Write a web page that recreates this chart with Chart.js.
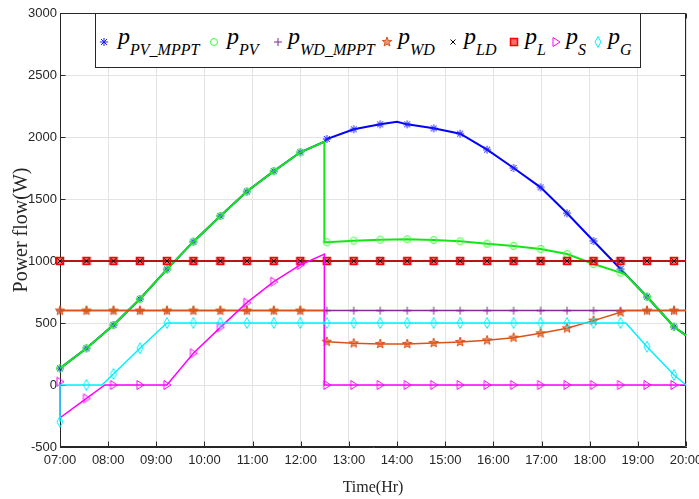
<html>
<head>
<title>Power flow</title>
<script src="https://cdn.jsdelivr.net/npm/chart.js"></script>
<style>
  body { margin: 0; background: #fff; }
  #wrap { position: relative; width: 699px; height: 499px; }
  #legend { position: absolute; left: 95px; top: 13px; width: 546px; height: 55px; box-sizing: border-box;
            border: 1px solid #262626; background: #fff; }
  #legend canvas { position: absolute; }
  #legend .lab { position: absolute; top: 9px; line-height: 24px; white-space: nowrap;
                 font: italic 24px 'Liberation Serif', serif; color: #000; }
  #legend .lab sub { font-size: 16px; vertical-align: -11px; line-height: 0; }
</style>
</head>
<body>
<div id="wrap">
  <canvas id="chart" width="699" height="499"></canvas>
  <div id="legend"></div>
</div>

<script>
    // marker times (hours) – a marker is drawn at the first point of each of these
    const tMark = [7.00, 7.55, 8.11, 8.66, 9.22, 9.77, 10.33, 10.88, 11.44, 11.99, 12.54, 13.10,
                   13.65, 14.21, 14.76, 15.31, 15.87, 16.42, 16.98, 17.53, 18.08, 18.64, 19.19, 19.75];

    const xLabels = ['07:00', '08:00', '09:00', '10:00', '11:00', '12:00', '13:00',
                     '14:00', '15:00', '16:00', '17:00', '18:00', '19:00', '20:00'];
    const yLabels = ['-500', '0', '500', '1000', '1500', '2000', '2500', '3000'];

    // p_PV_MPPT
    const pvMpptT = [7.00, 7.55, 8.11, 8.66, 9.22, 9.77, 10.33, 10.88, 11.44, 11.99, 12.49, 12.54, 13.10, 13.65,
                     14.00, 14.21, 14.76, 15.31, 15.87, 16.42, 16.98, 17.53, 18.08, 18.64, 19.19, 19.75, 20.00];
    const pvMpptV = [134, 296, 484, 694, 933, 1156, 1363, 1560, 1725, 1877, 1962, 1984, 2062, 2102,
                     2123, 2102, 2070, 2027, 1898, 1750, 1594, 1385, 1161, 935, 712, 470, 400];

    // p_PV
    const pvT = [7.00, 7.55, 8.11, 8.66, 9.22, 9.77, 10.33, 10.88, 11.44, 11.99, 12.49, 12.49, 12.54, 13.10,
                 13.65, 14.21, 14.76, 15.31, 15.87, 16.42, 16.98, 17.53, 18.08, 18.64, 18.75, 19.19, 19.75, 20.00];
    const pvV = [134, 296, 484, 694, 933, 1156, 1363, 1560, 1725, 1877, 1962, 1151, 1151, 1164,
                 1172, 1175, 1169, 1159, 1140, 1121, 1097, 1056, 976, 906, 888, 712, 470, 400];

    // p_WD_MPPT
    const wdMpptT = [7.00, 7.55, 8.11, 8.66, 9.22, 9.77, 10.33, 10.88, 11.44, 11.99, 12.54, 13.10,
                     13.65, 14.21, 14.76, 15.31, 15.87, 16.42, 16.98, 17.53, 18.08, 18.64, 19.19, 19.75, 20.00];
    const wdMpptV = [600, 600, 600, 600, 600, 600, 600, 600, 600, 600, 600, 600,
                     600, 600, 600, 600, 600, 600, 600, 600, 600, 600, 600, 600, 600];

    // p_WD
    const wdT = [7.00, 7.55, 8.11, 8.66, 9.22, 9.77, 10.33, 10.88, 11.44, 11.99, 12.49, 12.49, 12.54, 13.10,
                 13.65, 14.21, 14.76, 15.31, 15.87, 16.42, 16.98, 17.53, 18.08, 18.64, 18.75, 19.19, 19.75, 20.00];
    const wdV = [600, 600, 600, 600, 600, 600, 600, 600, 600, 600, 600, 349, 349, 336,
                 331, 331, 339, 347, 360, 382, 417, 457, 519, 586, 600, 600, 600, 600];

    // p_LD and p_L
    const loadT = [7.00, 7.55, 8.11, 8.66, 9.22, 9.77, 10.33, 10.88, 11.44, 11.99, 12.54, 13.10,
                   13.65, 14.21, 14.76, 15.31, 15.87, 16.42, 16.98, 17.53, 18.08, 18.64, 19.19, 19.75, 20.00];
    const ldV = [1000, 1000, 1000, 1000, 1000, 1000, 1000, 1000, 1000, 1000, 1000, 1000,
                 1000, 1000, 1000, 1000, 1000, 1000, 1000, 1000, 1000, 1000, 1000, 1000, 1000];
    const lV = [1000, 1000, 1000, 1000, 1000, 1000, 1000, 1000, 1000, 1000, 1000, 1000,
                1000, 1000, 1000, 1000, 1000, 1000, 1000, 1000, 1000, 1000, 1000, 1000, 1000];

    // p_S
    const sT = [7.00, 7.00, 7.55, 7.93, 8.11, 8.66, 9.22, 9.77, 10.33, 10.88, 11.44, 11.99, 12.49, 12.49, 12.54,
                13.10, 13.65, 14.21, 14.76, 15.31, 15.87, 16.42, 16.98, 17.53, 18.08, 18.64, 19.19, 19.75, 20.00];
    const sV = [27, -265, -108, 0, 0, 0, 0, 256, 465, 664, 833, 968, 1056, 0, 0,
                0, 0, 0, 0, 0, 0, 0, 0, 0, 0, 0, 0, 0, 0];

    // p_G
    const gT = [7.00, 7.00, 7.55, 7.87, 8.11, 8.66, 9.22, 9.77, 10.33, 10.88, 11.44, 11.99, 12.54, 13.10,
                13.65, 14.21, 14.76, 15.31, 15.87, 16.42, 16.98, 17.53, 18.08, 18.64, 18.75, 19.19, 19.75, 20.00];
    const gV = [-296, 0, 0, 0, 89, 296, 500, 500, 500, 500, 500, 500, 500, 500,
                500, 500, 500, 500, 500, 500, 500, 500, 500, 500, 500, 309, 81, 0];

    // small marker images (matlab style)
    function marker(kind, color) {
        const c = document.createElement('canvas');
        c.width = 14; c.height = 14;
        const g = c.getContext('2d');
        g.translate(7, 7);
        g.strokeStyle = color;
        g.fillStyle = color;
        g.lineWidth = 1;
        g.beginPath();
        if (kind === 'ast') {
            g.moveTo(-4, 0); g.lineTo(4, 0); g.moveTo(0, -4); g.lineTo(0, 4);
            g.moveTo(-3, -3); g.lineTo(3, 3); g.moveTo(-3, 3); g.lineTo(3, -3);
        } else if (kind === 'circ') {
            g.arc(0, 0, 3.5, 0, Math.PI * 2);
        } else if (kind === 'plus') {
            g.moveTo(-4, 0); g.lineTo(4, 0); g.moveTo(0, -4); g.lineTo(0, 4);
        } else if (kind === 'pent') {
            for (let i = 0; i < 10; i++) {
                const r = i % 2 ? 2 : 5;
                const a = -Math.PI / 2 + i * Math.PI / 5;
                g.lineTo(Math.cos(a) * r, Math.sin(a) * r);
            }
            g.closePath();
            g.globalAlpha = 0.6; g.fill(); g.globalAlpha = 1;
        } else if (kind === 'x') {
            g.moveTo(-2.5, -2.5); g.lineTo(2.5, 2.5); g.moveTo(-2.5, 2.5); g.lineTo(2.5, -2.5);
        } else if (kind === 'sq') {
            g.rect(-3.5, -3.5, 7, 7);
            g.fillStyle = '#ff6a6a'; g.fill();
            g.lineWidth = 1.5;
        } else if (kind === 'tri') {
            g.moveTo(-3, -4.5); g.lineTo(4, 0); g.lineTo(-3, 4.5); g.closePath();
        } else if (kind === 'dia') {
            g.moveTo(0, -5.5); g.lineTo(3, 0); g.lineTo(0, 5.5); g.lineTo(-3, 0); g.closePath();
        }
        g.stroke();
        return c;
    }

    const series = [
        {sub: 'PV_MPPT', t: pvMpptT, v: pvMpptV, line: '#0000ff', mk: 'ast',  mc: '#1a1aff', w: 2,   z: 8, lx: 8,   tx: 22},
        {sub: 'PV',      t: pvT,     v: pvV,     line: '#14e614', mk: 'circ', mc: '#33ff33', w: 2,   z: 7, lx: 118, tx: 131},
        {sub: 'WD_MPPT', t: wdMpptT, v: wdMpptV, line: '#7e2f8e', mk: 'plus', mc: '#7e2f8e', w: 1.5, z: 6, lx: 182, tx: 192},
        {sub: 'WD',      t: wdT,     v: wdV,     line: '#d95319', mk: 'pent', mc: '#d95319', w: 1.5, z: 5, lx: 291, tx: 302},
        {sub: 'LD',      t: loadT,   v: ldV,     line: '#b81414', mk: 'x',    mc: '#000000', w: 2,   z: 3, lx: 357, tx: 368},
        {sub: 'L',       t: loadT,   v: lV,      line: '#c81a1a', mk: 'sq',   mc: '#ff0000', w: 2,   z: 4, lx: 418, tx: 429},
        {sub: 'S',       t: sT,      v: sV,      line: '#ff00ff', mk: 'tri',  mc: '#ff00ff', w: 1.5, z: 2, lx: 460, tx: 470},
        {sub: 'G',       t: gT,      v: gV,      line: '#00f0ff', mk: 'dia',  mc: '#00f0ff', w: 1.5, z: 1, lx: 502, tx: 512}
    ];

    const datasets = series.map(s => {
        const seen = new Set();
        const marks = s.t.map(t => {
            if (tMark.includes(t) && !seen.has(t)) { seen.add(t); return 1; }
            return 0;
        });
        const img = marker(s.mk, s.mc);
        s.img = marker(s.mk, s.mc);
        return {
            label: 'p_' + s.sub,
            data: s.t.map((t, i) => ({x: t, y: s.v[i]})),
            borderColor: s.line,
            borderWidth: s.w,
            tension: 0,
            pointStyle: img,
            pointRadius: ctx => marks[ctx.dataIndex] ? 3 : 0,
            pointHoverRadius: 0,
            clip: false,
            order: s.z
        };
    });

    // box round the plot with inward ticks on all four sides
    const frameTicks = {
        id: 'frameTicks',
        beforeDatasetsDraw(chart) {
            const {ctx, chartArea: a, scales: {x, y}} = chart;
            ctx.save();
            ctx.strokeStyle = '#262626';
            ctx.lineWidth = 1;
            const L = Math.round(a.left) + 0.5, R = Math.round(a.right) - 0.5;
            const T = Math.round(a.top) + 0.5, B = Math.round(a.bottom) - 0.5;
            ctx.beginPath();
            ctx.rect(L, T, R - L, B - T);
            x.ticks.forEach(t => {
                const px = Math.round(x.getPixelForValue(t.value)) + 0.5;
                ctx.moveTo(px, B); ctx.lineTo(px, B - 5);
                ctx.moveTo(px, T); ctx.lineTo(px, T + 5);
            });
            y.ticks.forEach(t => {
                const py = Math.round(y.getPixelForValue(t.value)) + 0.5;
                ctx.moveTo(L, py); ctx.lineTo(L + 5, py);
                ctx.moveTo(R, py); ctx.lineTo(R - 5, py);
            });
            ctx.stroke();
            ctx.restore();
        }
    };

    const tickFont = {family: "'Liberation Sans Narrow', 'Liberation Sans', sans-serif", size: 13};

    new Chart(document.getElementById('chart').getContext('2d'), {
        type: 'line',
        data: {datasets},
        options: {
            responsive: false,
            animation: false,
            devicePixelRatio: 1,
            layout: {padding: {top: 13, right: 13, left: 0, bottom: 0}},
            plugins: {legend: {display: false}, tooltip: {enabled: false}},
            scales: {
                x: {
                    type: 'linear', min: 7, max: 20,
                    afterFit: s => { s.height = 52; s.paddingLeft = 0; s.paddingRight = 0; },
                    ticks: {stepSize: 1, padding: 6, maxRotation: 0, autoSkip: false, color: '#262626',
                            font: tickFont, callback: (v, i) => xLabels[i]},
                    grid: {color: '#e3e3e3', drawTicks: false},
                    border: {color: '#262626'},
                    title: {display: true, text: 'Time(Hr)', color: '#262626',
                            font: {family: "'Liberation Serif', serif", size: 16}, padding: {top: 0, bottom: 2}}
                },
                y: {
                    min: -500, max: 3000,
                    afterFit: s => { s.width = 60; s.paddingTop = 0; s.paddingBottom = 0; },
                    ticks: {stepSize: 500, padding: 3, color: '#262626', font: tickFont,
                            callback: (v, i) => yLabels[i]},
                    grid: {color: '#e3e3e3', drawTicks: false},
                    border: {color: '#262626'},
                    title: {display: true, text: 'Power flow(W)', color: '#262626',
                            font: {family: "'Liberation Serif', serif", size: 20}, padding: {top: 10, bottom: 0}}
                }
            }
        },
        plugins: [frameTicks]
    });

    // legend with subscripts
    const legend = document.getElementById('legend');
    series.forEach(s => {
        const c = s.img;
        c.style.left = (s.lx - 7) + 'px';
        c.style.top = (28 - 7) + 'px';
        legend.appendChild(c);
        const lab = document.createElement('span');
        lab.className = 'lab';
        lab.style.left = s.tx + 'px';
        lab.innerHTML = 'p<sub>' + s.sub + '</sub>';
        legend.appendChild(lab);
    });
</script>
</body>
</html>
